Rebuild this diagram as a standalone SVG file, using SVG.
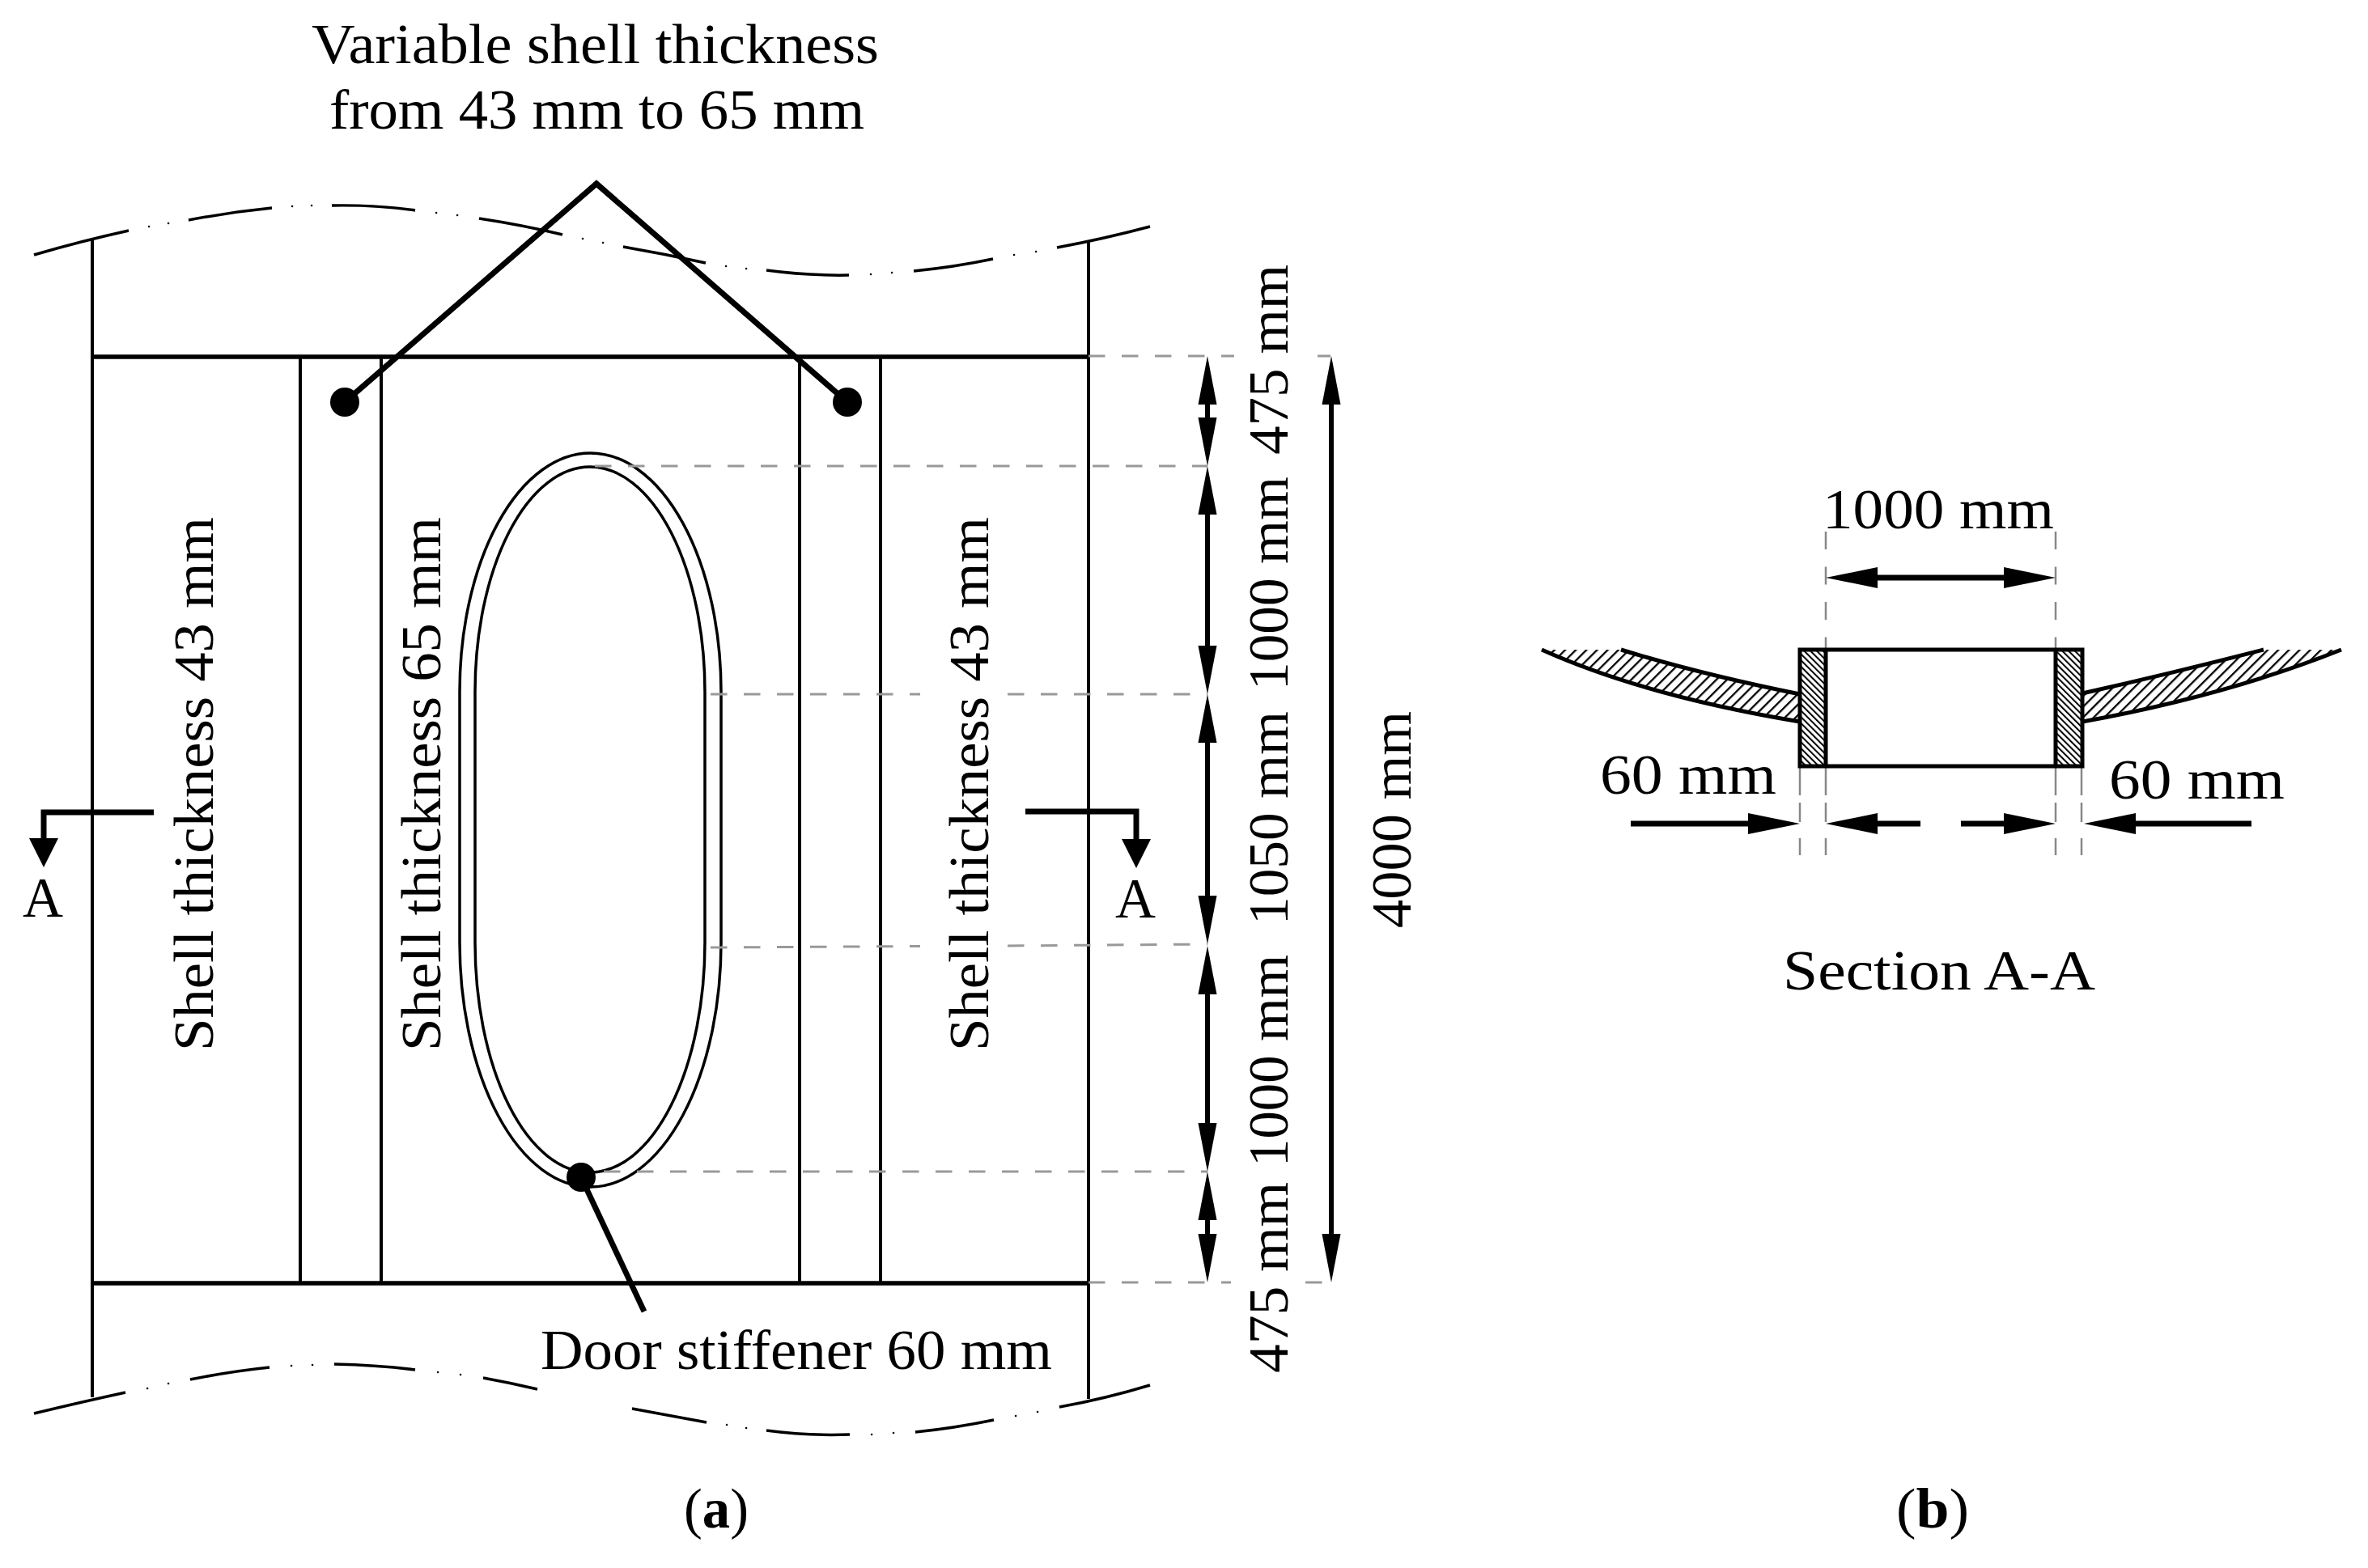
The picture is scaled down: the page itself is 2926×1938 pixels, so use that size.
<svg xmlns="http://www.w3.org/2000/svg" width="2926" height="1938" viewBox="0 0 2926 1938">
<style>
text{font-family:"Liberation Serif","Times New Roman",serif;font-size:69px;fill:#000}
.ln{stroke:#000;stroke-width:4;fill:none}
.hv{stroke:#000;stroke-width:5.5;fill:none}
.ld{stroke:#000;stroke-width:7;fill:none}
.dr{stroke:#000;stroke-width:3.5;fill:none}
.wv{stroke:#000;stroke-width:3.5;fill:none}
.wd{stroke:#000;stroke-width:2.5;stroke-linecap:round;fill:none}
.dh{stroke:#999;stroke-width:3;fill:none;stroke-dasharray:20.5 20.5}
.dv{stroke:#888;stroke-width:2.5;fill:none;stroke-dasharray:22 21.5}
.ar{stroke:#000;stroke-width:6;fill:none;marker-end:url(#h);marker-start:url(#hs)}
.a1{stroke:#000;stroke-width:7;fill:none;marker-end:url(#h2)}
.a2{stroke:#000;stroke-width:7;fill:none;marker-end:url(#h2);marker-start:url(#hs2)}
.a3{stroke:#000;stroke-width:7;fill:none;marker-end:url(#h3)}
</style>
<defs>
<marker id="h" markerUnits="userSpaceOnUse" markerWidth="62" markerHeight="24" refX="0" refY="12" orient="auto" overflow="visible"><path d="M0 0.5L60 12L0 23.5z" fill="#000"/></marker>
<marker id="hs" markerUnits="userSpaceOnUse" markerWidth="62" markerHeight="24" refX="60" refY="12" orient="auto" overflow="visible"><path d="M60 0.5L0 12L60 23.5z" fill="#000"/></marker>
<marker id="h2" markerUnits="userSpaceOnUse" markerWidth="66" markerHeight="28" refX="0" refY="14" orient="auto" overflow="visible"><path d="M0 1L64 14L0 27z" fill="#000"/></marker>
<marker id="hs2" markerUnits="userSpaceOnUse" markerWidth="66" markerHeight="28" refX="64" refY="14" orient="auto" overflow="visible"><path d="M64 1L0 14L64 27z" fill="#000"/></marker>
<marker id="h3" markerUnits="userSpaceOnUse" markerWidth="38" markerHeight="38" refX="0" refY="18" orient="auto" overflow="visible"><path d="M0 0L36 18L0 36z" fill="#000"/></marker>
<pattern id="hatchS" patternUnits="userSpaceOnUse" width="9.300" height="9.300" patternTransform="rotate(45)"><rect x="0" y="0" width="2.300" height="9.300" fill="#000"/></pattern>
<pattern id="hatchD" patternUnits="userSpaceOnUse" width="5.500" height="5.500" patternTransform="rotate(-45)"><rect x="0" y="0" width="2" height="5.500" fill="#000"/></pattern>
</defs>
<rect width="2926" height="1938" fill="#fff"/>

<g id="shell-panel">
<path class="wv" d="M42 315Q100 298 159 285M233 272Q285 262 336 257M410 254Q465 253 513 260M592 270Q645 278 695 290M770 305Q822 314 872 325M947 334Q1000 341 1049 340M1129 335Q1180 330 1227 320M1306 306Q1365 295 1421 280"/>
<path class="wd" d="M184 280h.1M208 276h.1M361 255h.1M385 254h.1M539 263h.1M565 266h.1M720 295h.1M745 300h.1M897 329h.1M922 332h.1M1076 339h.1M1102 337h.1M1253 315h.1M1280 311h.1"/>
<path class="wv" d="M42 1747Q100 1733 155 1721M235 1705Q285 1695 333 1690M413 1686Q465 1687 513 1693M597 1703Q630 1709 664 1717M781 1741Q825 1749 873 1758M947 1768Q1000 1775 1050 1773M1131 1770Q1180 1765 1228 1755M1309 1739Q1365 1729 1421 1712"/>
<path class="wd" d="M182 1716h.1M208 1710h.1M360 1688h.1M386 1687h.1M541 1696h.1M569 1699h.1M898 1761h.1M922 1765h.1M1077 1773h.1M1104 1771h.1M1255 1750h.1M1282 1745h.1"/>
<path class="ln" d="M114 297V1727M1345 297V1729M371 441V1586M471 441V1586M988 441V1586M1088 441V1586"/>
<path class="hv" d="M114 441H1345M114 1586H1345"/>
</g>

<g id="door">
<path class="dr" d="M568 855A161.500 295 0 0 1 891 855V1165A161.500 302 0 0 1 568 1165Z"/>
<path class="dr" d="M587 855A142 278 0 0 1 871 855V1165A142 284 0 0 1 587 1165Z"/>
</g>

<g id="connectors">
<path class="dh" d="M1345 440H1525M1628 440H1644"/>
<path class="dh" d="M735 576H1492"/>
<path class="dh" d="M878 858H1137M1245 858H1492"/>
<path class="dh" d="M878 1171L1137 1169.500M1245 1169L1492 1167"/>
<path class="dh" d="M746 1448H1492"/>
<path class="dh" d="M1345 1585H1521M1613 1585H1644"/>
<path class="ar" d="M1492 500V516"/>
<path class="ar" d="M1492 636V798"/>
<path class="ar" d="M1492 918V1107"/>
<path class="ar" d="M1492 1229V1388"/>
<path class="ar" d="M1492 1508V1525"/>
<path class="ar" d="M1645 500V1525"/>
<path class="ld" d="M426 497L737 227L1047 497"/>
<path class="ld" d="M718 1455L796 1621"/>
<path class="a3" d="M190 1004H54V1036"/>
<path class="a3" d="M1267 1003H1404V1037"/>
<path class="dv" d="M2256 657V803M2540 657V803"/>
<path class="dv" style="stroke-dasharray:36 9 24 20 21" d="M2224 947V1057M2256 947V1057M2540 947V1057M2572 947V1057"/>
<path class="a2" d="M2320 714H2476"/>
<path class="a1" d="M2015 1018H2160"/>
<path class="a1" d="M2373 1018H2320"/>
<path class="a1" d="M2423 1018H2476"/>
<path class="a1" d="M2782 1018H2639"/>
</g>

<g id="dots">
<circle cx="426" cy="497" r="18"/>
<circle cx="1047" cy="497" r="18"/>
<circle cx="718" cy="1455" r="18"/>
</g>

<g id="section-b">
<path d="M1905 803H2003Q2100 833 2224 858V892Q2032 860 1905 803Z" fill="url(#hatchS)"/>
<path d="M2893 803H2797Q2680 833 2573 857V892Q2750 860 2893 803Z" fill="url(#hatchS)"/>
<path class="ln" style="stroke-width:5" d="M2003 803Q2100 833 2224 858M2224 892Q2032 860 1905 803M2797 803Q2680 833 2573 857M2573 892Q2750 860 2893 803"/>
<rect x="2224" y="803" width="32" height="144" fill="url(#hatchD)"/>
<rect x="2540" y="803" width="33" height="144" fill="url(#hatchD)"/>
<path class="ln" style="stroke-width:5" d="M2224 803H2573V947H2224ZM2256 803V947M2540 803V947"/>
</g>

<g id="labels">
<text x="385" y="78" textLength="701" lengthAdjust="spacingAndGlyphs">Variable shell thickness</text>
<text x="407" y="159" textLength="661" lengthAdjust="spacingAndGlyphs">from 43 mm to 65 mm</text>
<text transform="translate(263 1299) rotate(-90)" textLength="660" lengthAdjust="spacingAndGlyphs">Shell thickness 43 mm</text>
<text transform="translate(544 1299) rotate(-90)" textLength="660" lengthAdjust="spacingAndGlyphs">Shell thickness 65 mm</text>
<text transform="translate(1221 1299) rotate(-90)" textLength="660" lengthAdjust="spacingAndGlyphs">Shell thickness 43 mm</text>
<text x="28" y="1133" textLength="50" lengthAdjust="spacingAndGlyphs">A</text>
<text x="1378" y="1134" textLength="50" lengthAdjust="spacingAndGlyphs">A</text>
<text transform="translate(1591 562) rotate(-90)" textLength="235" lengthAdjust="spacingAndGlyphs">475 mm</text>
<text transform="translate(1591 853) rotate(-90)" textLength="264" lengthAdjust="spacingAndGlyphs">1000 mm</text>
<text transform="translate(1591 1143) rotate(-90)" textLength="264" lengthAdjust="spacingAndGlyphs">1050 mm</text>
<text transform="translate(1591 1442) rotate(-90)" textLength="262" lengthAdjust="spacingAndGlyphs">1000 mm</text>
<text transform="translate(1591 1697) rotate(-90)" textLength="236" lengthAdjust="spacingAndGlyphs">475 mm</text>
<text transform="translate(1743 1147) rotate(-90)" textLength="268" lengthAdjust="spacingAndGlyphs">4000 mm</text>
<text x="668" y="1692" textLength="632" lengthAdjust="spacingAndGlyphs">Door stiffener 60 mm</text>
<text x="845" y="1888" textLength="80" lengthAdjust="spacingAndGlyphs">(<tspan font-weight="bold">a</tspan>)</text>
<text x="2252" y="653" textLength="286" lengthAdjust="spacingAndGlyphs">1000 mm</text>
<text x="1977" y="981" textLength="218" lengthAdjust="spacingAndGlyphs">60 mm</text>
<text x="2606" y="987" textLength="217" lengthAdjust="spacingAndGlyphs">60 mm</text>
<text x="2203" y="1223" textLength="386" lengthAdjust="spacingAndGlyphs">Section A-A</text>
<text x="2343" y="1888" textLength="90" lengthAdjust="spacingAndGlyphs">(<tspan font-weight="bold">b</tspan>)</text>
</g>
</svg>
